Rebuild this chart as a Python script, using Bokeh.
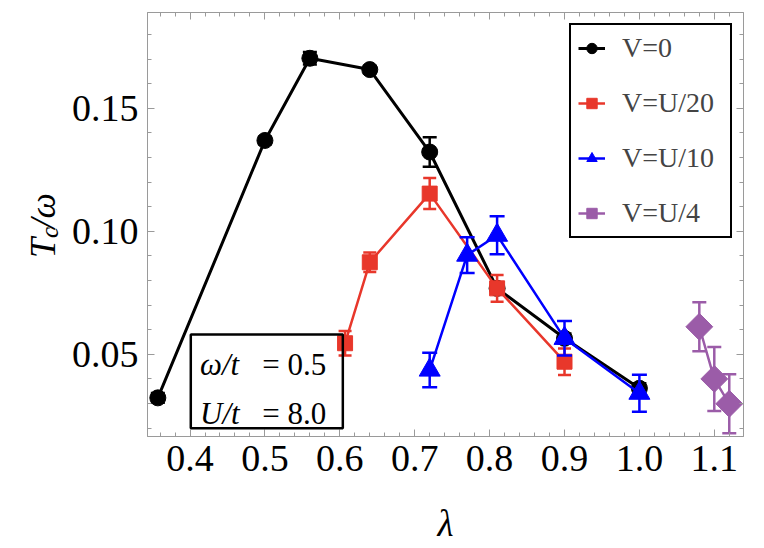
import numpy as np
from bokeh.plotting import figure
from bokeh.layouts import row
from bokeh.models import (Range1d, FixedTicker, LinearAxis, Legend, LegendItem,
                          Label, BoxAnnotation, ColumnDataSource)
from bokeh.embed import file_html
from bokeh.resources import INLINE

# ---------------- data ----------------
lam_v0 = [0.357, 0.50, 0.56, 0.64, 0.72, 0.81, 0.90, 1.00]
tc_v0 = [0.0323, 0.1369, 0.1703, 0.1657, 0.1322, 0.0768, 0.0565, 0.0362]
err_v0 = [0.002, 0.0015, 0.0025, 0.0015, 0.006, 0.002, 0.002, 0.002]

lam_v20 = [0.607, 0.64, 0.72, 0.81, 0.90]
tc_v20 = [0.0545, 0.0874, 0.1153, 0.0768, 0.0470]
err_v20 = [0.005, 0.004, 0.0063, 0.0054, 0.0054]

lam_v10 = [0.72, 0.77, 0.81, 0.90, 1.00]
tc_v10 = [0.0436, 0.0903, 0.0984, 0.0565, 0.0342]
err_v10 = [0.007, 0.0073, 0.0077, 0.007, 0.0075]

lam_v4 = [1.08, 1.10, 1.12]
tc_v4 = [0.0612, 0.0400, 0.0299]
err_v4 = [0.010, 0.013, 0.012]

series_labels = ["V=0", "V=U/20", "V=U/10", "V=U/4"]

x_ticks = [0.4, 0.5, 0.6, 0.7, 0.8, 0.9, 1.0, 1.1]
x_tick_labels = ["0.4", "0.5", "0.6", "0.7", "0.8", "0.9", "1.0", "1.1"]
x_minor = [round(0.34 + 0.02 * i, 2) for i in range(41)]
y_ticks = [0.05, 0.10, 0.15]
y_tick_labels = ["0.05", "0.10", "0.15"]
y_minor = [round(0.01 * i, 2) for i in range(1, 20)]

FONT = "Liberation Serif"
QFONT = "'Liberation Serif'"
GRAY = "#9a9a9a"
BLACK = "#000000"
RED = "#e8372b"
BLUE = "#0000ff"
PURPLE = "#9b5ca8"

H = 546
LW = 60          # width of the strip holding the y-axis title
TOP, BOT = 12, 437   # frame top / bottom (pixels from the top of the canvas)

p = figure(width=760 - LW, height=H, output_backend="svg", toolbar_location=None,
           x_range=Range1d(0.3432, 1.139), y_range=Range1d(0.0166, 0.1889),
           min_border_left=147 - LW, min_border_right=17, min_border_top=TOP,
           min_border_bottom=H - BOT)
p.xgrid.visible = False
p.ygrid.visible = False
p.outline_line_color = GRAY
p.background_fill_color = "white"
p.border_fill_color = "white"

xticker = FixedTicker(ticks=x_ticks, minor_ticks=x_minor)
yticker = FixedTicker(ticks=y_ticks, minor_ticks=y_minor)


def style_axis(ax, labels):
    ax.axis_line_color = GRAY
    ax.major_tick_line_color = GRAY
    ax.minor_tick_line_color = GRAY
    ax.major_tick_in = 7
    ax.major_tick_out = 0
    ax.minor_tick_in = 4
    ax.minor_tick_out = 0
    ax.major_label_text_font = FONT
    ax.major_label_text_font_size = "38px"
    ax.major_label_text_color = "black"
    ax.major_label_overrides = labels


xa = p.xaxis[0]
xa.ticker = xticker
style_axis(xa, dict(zip(x_ticks, x_tick_labels)))
xa.major_label_standoff = 9
xa.axis_label = "λ"
xa.axis_label_text_font = FONT
xa.axis_label_text_font_size = "37px"
xa.axis_label_text_font_style = "italic"
xa.axis_label_text_color = "black"
xa.axis_label_standoff = 29

ya = p.yaxis[0]
ya.ticker = yticker
style_axis(ya, dict(zip(y_ticks, y_tick_labels)))
ya.major_label_standoff = 9

top = LinearAxis(ticker=xticker)
style_axis(top, {t: "" for t in x_ticks})
top.major_label_standoff = 0
top.major_label_text_font_size = "1px"
p.add_layout(top, "above")

right = LinearAxis(ticker=yticker)
style_axis(right, {t: "" for t in y_ticks})
right.major_label_standoff = 0
right.major_label_text_font_size = "1px"
p.add_layout(right, "right")


def series(lam, tc, err, color, marker, size, lw, cap, angle=0.0):
    src = ColumnDataSource(dict(x=lam, y=tc,
                                lo=[t - e for t, e in zip(tc, err)],
                                hi=[t + e for t, e in zip(tc, err)]))
    r_line = p.line("x", "y", source=src, line_color=color, line_width=lw)
    p.segment(x0="x", y0="lo", x1="x", y1="hi", source=src,
              line_color=color, line_width=2.5)
    p.scatter("x", "hi", source=src, marker="dash", size=cap,
              line_color=color, line_width=2.5)
    p.scatter("x", "lo", source=src, marker="dash", size=cap,
              line_color=color, line_width=2.5)
    r_pt = p.scatter("x", "y", source=src, marker=marker, size=size,
                     angle=angle, fill_color=color, line_color=color)
    return [r_line, r_pt]


items = []
items.append(LegendItem(label=series_labels[0],
                        renderers=series(lam_v0, tc_v0, err_v0, BLACK, "circle", 16, 3, 14)))
items.append(LegendItem(label=series_labels[1],
                        renderers=series(lam_v20, tc_v20, err_v20, RED, "square", 15, 2.5, 13)))
items.append(LegendItem(label=series_labels[2],
                        renderers=series(lam_v10, tc_v10, err_v10, BLUE, "triangle", 21, 2.5, 15)))
items.append(LegendItem(label=series_labels[3],
                        renderers=series(lam_v4, tc_v4, err_v4, PURPLE, "square", 19, 2.5, 14,
                                         angle=np.pi / 4)))

legend = Legend(items=items, location="top_right", margin=11, padding=7,
                spacing=23, glyph_height=26, glyph_width=27, label_height=26,
                label_width=101, label_standoff=17, label_text_font=QFONT,
                label_text_font_size="28px",
                border_line_color="black", border_line_width=2.5, border_line_alpha=1.0,
                background_fill_color="white", background_fill_alpha=1)
p.add_layout(legend)

# inset parameter box
p.add_layout(BoxAnnotation(left=0.401, right=0.604, bottom=0.020, top=0.0581,
                           fill_color=None, line_color="black", line_width=2.5,
                           line_alpha=1.0))
for txt, xx, yy, style in [("ω/t", 0.4133, 0.0457, "italic"),
                           ("= 0.5", 0.4965, 0.0457, "normal"),
                           ("U/t", 0.4133, 0.0261, "italic"),
                           ("= 8.0", 0.4965, 0.0261, "normal")]:
    p.add_layout(Label(x=xx, y=yy, text=txt, text_font=FONT, text_font_size="31px",
                       text_font_style=style, text_color="black",
                       text_baseline="alphabetic", text_align="left"))

# strip on the left that carries the y-axis title T_c/ω (subscript as real text).
# In a row its frame is aligned with the main frame, so its y-range is given in
# pixels measured from the bottom of the canvas over that same frame band.
lab = figure(width=LW, height=H, output_backend="svg", toolbar_location=None,
             x_range=Range1d(0, LW), y_range=Range1d(H - BOT, H - TOP),
             min_border_left=0, min_border_right=0, min_border_top=TOP,
             min_border_bottom=H - BOT,
             x_axis_location=None, y_axis_location=None)
lab.xgrid.visible = False
lab.ygrid.visible = False
lab.outline_line_color = None
lab.background_fill_color = "white"
lab.border_fill_color = "white"
# each piece is anchored at its end (right-aligned, then turned to read upwards)
y0 = H - 258
for txt, xx, yy, fs in [("T", 42, y0 + 20, "36px"), ("c", 49, y0 + 31, "25px"),
                        ("/ω", 42, y0 + 65, "36px")]:
    lab.add_layout(Label(x=xx, y=yy, text=txt, angle=np.pi / 2, text_font=FONT,
                         text_font_size=fs, text_font_style="italic",
                         text_color="black", text_align="right",
                         text_baseline="alphabetic"))

layout = row(lab, p, spacing=0)
open("out.html", "w").write(file_html(layout, INLINE))
